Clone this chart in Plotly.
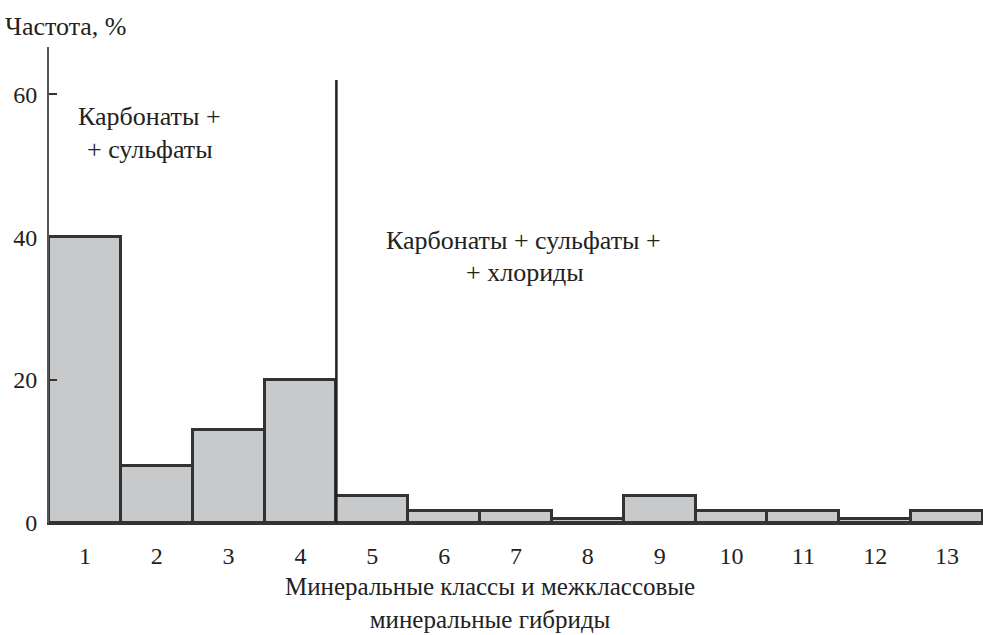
import plotly.graph_objects as go

# Frequency of mineral classes and inter-class hybrids
classes = [1, 2, 3, 4, 5, 6, 7, 8, 9, 10, 11, 12, 13]
frequency = [40, 8, 13, 20, 3.8, 1.7, 1.7, 0.6, 3.8, 1.7, 1.7, 0.6, 1.7]
y_ticks = [0, 20, 40, 60]

# boundary between the two mineral groups
divider_x = 4.5
divider_top = 62

FONT = "Liberation Serif, Times New Roman, serif"
INK = "#333333"
TEXT = "#222222"
LABEL_SIZE = 26

fig = go.Figure()
fig.add_trace(go.Bar(
    x=classes,
    y=frequency,
    width=1,
    marker=dict(color="#c8c9cb", line=dict(color=INK, width=3)),
    hoverinfo="x+y",
))

fig.add_shape(type="line", xref="x", yref="y",
              x0=divider_x, x1=divider_x, y0=0, y1=divider_top,
              line=dict(color="#222222", width=2.5))


def label(text, x, y, xref="x", yref="y", yanchor="middle", size=LABEL_SIZE, **kw):
    fig.add_annotation(x=x, y=y, xref=xref, yref=yref, text=text,
                       showarrow=False, yanchor=yanchor, borderpad=0,
                       font=dict(family=FONT, size=size, color=TEXT), **kw)


# group labels, one line each
label("Карбонаты +", 1.9, 56.9)
label("+ сульфаты", 1.9, 52.2)
label("Карбонаты + сульфаты +", 7.11, 39.5)
label("+ хлориды", 7.13, 35.1)

# axis titles
label("Частота, %", 0.0, 1.0, xref="paper", yref="paper",
      xanchor="left", xshift=-45, yshift=21)
label("Минеральные классы и межклассовые<br>минеральные гибриды",
      0.472, -0.234, xref="paper", yref="paper", yanchor="bottom", size=25)

fig.update_layout(
    width=983, height=635,
    margin=dict(l=49, r=0, t=47, b=112),
    plot_bgcolor="white", paper_bgcolor="white",
    showlegend=False, bargap=0,
    font=dict(family=FONT, size=24, color=TEXT),
    xaxis=dict(
        range=[0.5, 13.5], tickvals=classes,
        ticktext=[str(c) for c in classes],
        showgrid=False, zeroline=False, ticks="",
        showline=True, linecolor=INK, linewidth=2,
        ticklabelstandoff=10,
    ),
    yaxis=dict(
        range=[0, 66.6], tickvals=y_ticks,
        showgrid=False, zeroline=False,
        ticks="inside", ticklen=8, tickwidth=1.5, tickcolor=INK,
        showline=True, linecolor="#555555", linewidth=2,
        ticklabelstandoff=5,
    ),
)

fig.write_html("out.html")
